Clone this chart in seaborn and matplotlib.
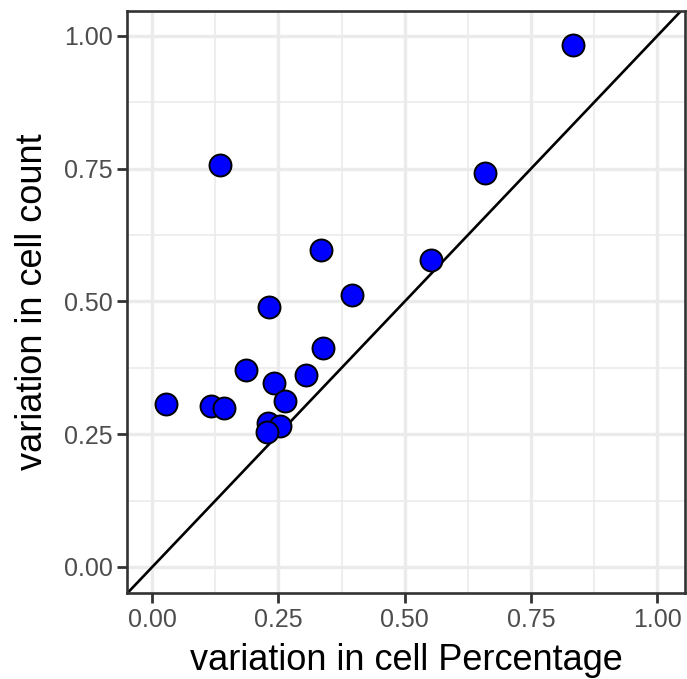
import matplotlib
matplotlib.use("Agg")
import matplotlib.pyplot as plt
import seaborn as sns
import pandas as pd
from matplotlib.ticker import MultipleLocator

sns.set_style("white")
plt.rcParams['font.family'] = ['Liberation Sans', 'DejaVu Sans']

pct = [0.834, 0.659, 0.135, 0.552, 0.335, 0.396, 0.232, 0.339, 0.186, 0.305,
       0.242, 0.263, 0.028, 0.117, 0.143, 0.230, 0.253, 0.228]
count = [0.983, 0.742, 0.757, 0.578, 0.597, 0.512, 0.490, 0.412, 0.371, 0.362,
         0.347, 0.313, 0.307, 0.303, 0.299, 0.271, 0.266, 0.254]
ticks = [0.00, 0.25, 0.50, 0.75, 1.00]
tick_labels = ["0.00", "0.25", "0.50", "0.75", "1.00"]

df = pd.DataFrame({"pct": pct, "count": count})

fig = plt.figure(figsize=(6.87, 6.79), dpi=100)
ax = fig.add_axes([127/687, (679-593)/679, 558/687, 582/679])

ax.set_xlim(-0.05, 1.055)
ax.set_ylim(-0.049, 1.047)

ax.xaxis.set_minor_locator(MultipleLocator(0.125))
ax.yaxis.set_minor_locator(MultipleLocator(0.125))
ax.grid(which="major", color="#EBEBEB", linewidth=2.4, zorder=0)
ax.grid(which="minor", color="#EBEBEB", linewidth=1.2, zorder=0)
ax.set_axisbelow(True)

ax.axline((0, 0), slope=1, color="black", linewidth=1.9, zorder=2)

sns.scatterplot(data=df, x="pct", y="count", ax=ax, s=250, color="#0000FF",
                edgecolor="black", linewidth=1.4, zorder=3)

ax.set_xticks(ticks)
ax.set_xticklabels(tick_labels)
ax.set_yticks(ticks)
ax.set_yticklabels(tick_labels)
ax.tick_params(which="major", direction="out", length=7, width=2.0, color="#333333",
               labelsize=18, labelcolor="#4D4D4D", pad=3.5,
               bottom=True, left=True)
ax.tick_params(which="minor", length=0)

for sp in ax.spines.values():
    sp.set_color("#333333")
    sp.set_linewidth(1.9)

ax.set_xlabel("variation in cell Percentage", fontsize=26, color="black", labelpad=8)
ax.set_ylabel("variation in cell count", fontsize=26, color="black", labelpad=10)

fig.savefig("out.png", dpi=100)
